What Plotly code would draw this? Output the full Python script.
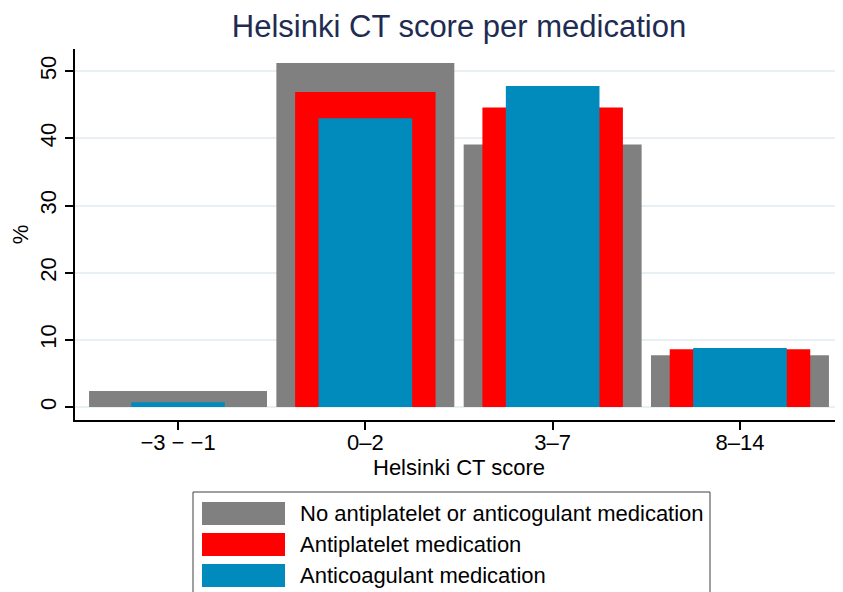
import plotly.graph_objects as go

categories = ["\u22123 \u2212 \u22121", "0\u20132", "3\u20137", "8\u201314"]
series_names = [
    "No antiplatelet or anticogulant medication",
    "Antiplatelet medication",
    "Anticoagulant medication",
]
no_med = [2.4, 51.2, 39.1, 7.7]
antiplatelet = [0.0, 46.9, 44.6, 8.6]
anticoagulant = [0.7, 43.0, 47.8, 8.8]
y_ticks = [0, 10, 20, 30, 40, 50]

series_values = [no_med, antiplatelet, anticoagulant]
colors = ["#808080", "#ff0000", "#008bbc"]
widths = [0.95, 0.75, 0.5]

OFF = 8  # page body margin
W, H = 843 - OFF, 592 - OFF
L, R, T, B = 75 - OFF, 0, 49 - OFF, 172
pw, ph = W - L - R, H - T - B

def px_x(x):
    return (x - OFF - L) / pw

def px_y(y):
    return (H - B - (y - OFF)) / ph

FONT = "Liberation Sans, Arial, Helvetica, sans-serif"

fig = go.Figure()
xs = list(range(len(categories)))
for name, vals, col, w in zip(series_names, series_values, colors, widths):
    fig.add_trace(go.Bar(x=xs, y=vals, name=name, marker=dict(color=col, line=dict(width=0)),
                         width=w, showlegend=False))

fig.update_layout(
    width=W, height=H,
    margin=dict(l=L, r=R, t=T, b=B),
    barmode="overlay",
    plot_bgcolor="white", paper_bgcolor="white",
    font=dict(family=FONT, size=22, color="black"),
    title=dict(text="Helsinki CT score per medication", xref="paper", x=px_x(459),
               xanchor="center", y=1 - (26 - OFF) / H, yanchor="middle",
               font=dict(size=31, color="#1e2b52", family=FONT)),
    xaxis=dict(range=[-0.55, 3.55], tickvals=xs, ticktext=categories,
               showline=True, linecolor="black", linewidth=1.5,
               ticks="outside", ticklen=8, tickwidth=1.5, tickcolor="black",
               ticklabelstandoff=-6,
               showgrid=False, zeroline=False,
               title=dict(text="Helsinki CT score", standoff=2, font=dict(size=22)),
               tickfont=dict(size=22)),
    yaxis=dict(range=[-1.93, 53.3], tickvals=y_ticks,
               showline=True, linecolor="black", linewidth=1.5,
               ticks="outside", ticklen=8, tickwidth=1.5, tickcolor="black",
               tickangle=-90, showgrid=True, gridcolor="#e9f0f3", gridwidth=1.5,
               zeroline=False, title=dict(text="%", standoff=6, font=dict(size=22)),
               tickfont=dict(size=22)),
)

# custom legend with wide swatches (Stata-style)
fig.add_shape(type="rect", xref="paper", yref="paper",
              x0=px_x(193), x1=px_x(710), y0=px_y(605), y1=px_y(492),
              line=dict(color="#404040", width=1), fillcolor="white", layer="above")
row_tops = [502, 533, 564]
for name, col, top in zip(series_names, colors, row_tops):
    fig.add_shape(type="rect", xref="paper", yref="paper",
                  x0=px_x(202), x1=px_x(285), y0=px_y(top + 23), y1=px_y(top),
                  line=dict(width=0), fillcolor=col, layer="above")
    fig.add_annotation(xref="paper", yref="paper", x=px_x(298), y=px_y(top + 11.5),
                       text=name, showarrow=False, xanchor="left", yanchor="middle",
                       font=dict(size=22, color="black", family=FONT))

fig.write_html("out.html")
